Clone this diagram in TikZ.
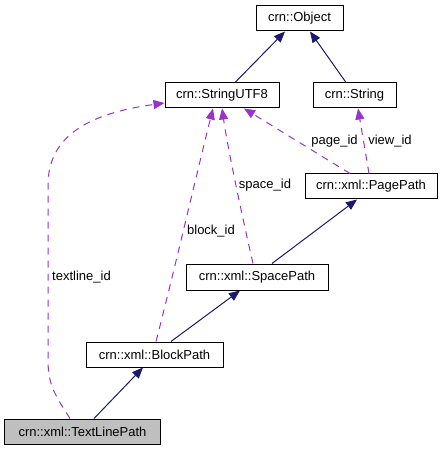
\documentclass[tikz,border=0pt]{standalone}
\usepackage{fontspec}
\setmainfont{Liberation Sans}
\usetikzlibrary{arrows.meta}
\definecolor{edgeblue}{RGB}{25,25,112}
\definecolor{edgepurple}{RGB}{154,50,205}
\definecolor{nodegray}{RGB}{191,191,191}
\tikzset{
  cls/.style={draw=black, line width=1bp, fill=white, inner sep=0pt, minimum height=25bp, font=\fontsize{13bp}{15bp}\selectfont},
  inh/.style={draw=edgeblue, line width=1bp, -{Triangle[length=11bp,width=9bp]}},
  use/.style={draw=edgepurple, line width=1bp, dash pattern=on 7bp off 6bp, -{Triangle[length=11bp,width=9bp]}},
  lbl/.style={inner sep=0pt, font=\fontsize{13bp}{15bp}\selectfont}
}
\begin{document}
\begin{tikzpicture}[x=1bp,y=-1bp]
\useasboundingbox (0,0) rectangle (444,451);
\node[cls, minimum width=87bp] (obj) at (299.5,18.5) {crn::Object};
\node[cls, minimum width=114bp] (utf) at (222,95.5) {crn::StringUTF8};
\node[cls, minimum width=83bp] (str) at (354.5,95.5) {crn::String};
\node[cls, minimum width=132bp] (page) at (371,186.5) {crn::xml::PagePath};
\node[cls, minimum width=142bp, minimum height=26bp] (space) at (257,277) {crn::xml::SpacePath};
\node[cls, minimum width=137bp] (block) at (154.5,354.5) {crn::xml::BlockPath};
\node[cls, minimum width=155bp, fill=nodegray] (tl) at (82.5,431.5) {crn::xml::TextLinePath};

% inheritance
\draw[inh] ([xshift=13bp]utf.north) -- ([xshift=-14.5bp]obj.south);
\draw[inh] ([xshift=-8.5bp]str.north) -- ([xshift=10.5bp]obj.south);
\draw[inh] ([xshift=15bp]space.north) -- ([xshift=-14bp]page.south);
\draw[inh] ([xshift=16.5bp]block.north) -- ([xshift=-17bp]space.south);
\draw[inh] ([xshift=11.5bp]tl.north) -- ([xshift=-11.5bp]block.south);

% usage
\draw[use] ([xshift=-21bp]page.north) -- ([xshift=22bp]utf.south);
\draw[use] ([xshift=-2bp]page.north) -- ([xshift=3.5bp]str.south);
\draw[use] ([xshift=-4bp]space.north) .. controls (243,220) and (228,150) .. (utf.south);
\draw[use] ([xshift=1.5bp]block.north) .. controls (172,280) and (200,160) .. ([xshift=-9bp]utf.south);
\draw[use] ([xshift=-12.5bp]tl.north) .. controls (55,395) and (48,385) .. (48,360) -- (48,185) .. controls (48,130) and (100,112) .. ([yshift=-7.5bp]utf.west);

\node[lbl] (lpage) at (334.5,141) {page\_id};
\node[lbl] (lview) at (390,141) {view\_id};
\node[lbl] (lspace) at (265,185) {space\_id};
\node[lbl] (lblock) at (211,231) {block\_id};
\node[lbl] (ltl) at (81.5,277) {textline\_id};
\end{tikzpicture}
\end{document}
